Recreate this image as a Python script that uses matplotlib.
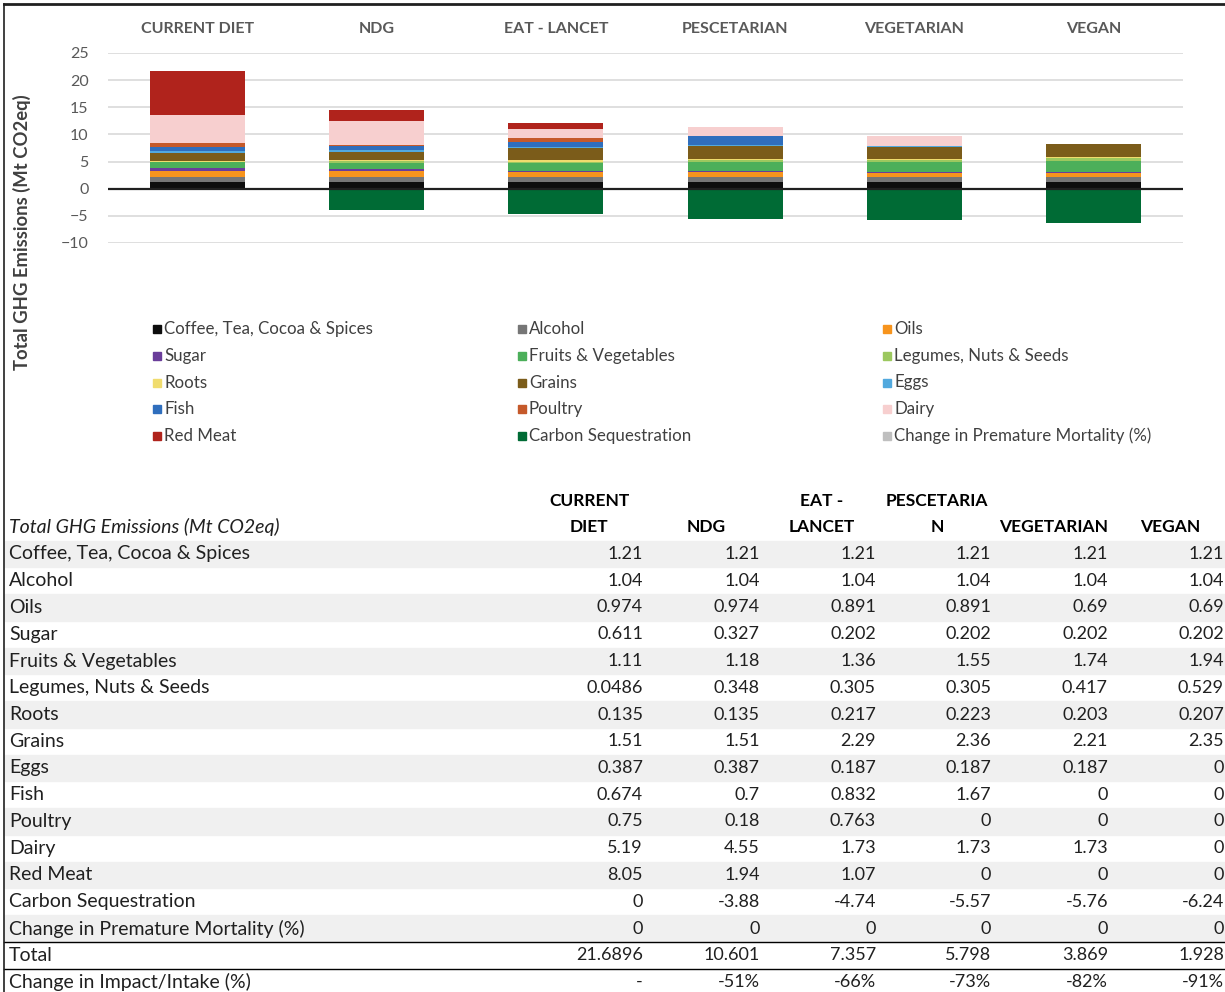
import matplotlib.pyplot as plt
from matplotlib.patches import Rectangle

# === Data ===
diets = ["CURRENT DIET", "NDG", "EAT - LANCET", "PESCETARIAN", "VEGETARIAN", "VEGAN"]
table_headers = ["CURRENT\nDIET", "NDG", "EAT -\nLANCET", "PESCETARIA\nN", "VEGETARIAN", "VEGAN"]

foods = ["Coffee, Tea, Cocoa & Spices", "Alcohol", "Oils", "Sugar", "Fruits & Vegetables",
         "Legumes, Nuts & Seeds", "Roots", "Grains", "Eggs", "Fish", "Poultry", "Dairy",
         "Red Meat", "Carbon Sequestration", "Change in Premature Mortality (%)"]

coffee = [1.21, 1.21, 1.21, 1.21, 1.21, 1.21]
alcohol = [1.04, 1.04, 1.04, 1.04, 1.04, 1.04]
oils = [0.974, 0.974, 0.891, 0.891, 0.69, 0.69]
sugar = [0.611, 0.327, 0.202, 0.202, 0.202, 0.202]
fruits_veg = [1.11, 1.18, 1.36, 1.55, 1.74, 1.94]
legumes = [0.0486, 0.348, 0.305, 0.305, 0.417, 0.529]
roots = [0.135, 0.135, 0.217, 0.223, 0.203, 0.207]
grains = [1.51, 1.51, 2.29, 2.36, 2.21, 2.35]
eggs = [0.387, 0.387, 0.187, 0.187, 0.187, 0]
fish = [0.674, 0.7, 0.832, 1.67, 0, 0]
poultry = [0.75, 0.18, 0.763, 0, 0, 0]
dairy = [5.19, 4.55, 1.73, 1.73, 1.73, 0]
red_meat = [8.05, 1.94, 1.07, 0, 0, 0]
carbon_seq = [0, -3.88, -4.74, -5.57, -5.76, -6.24]
mortality = [0, 0, 0, 0, 0, 0]

totals = [21.6896, 10.601, 7.357, 5.798, 3.869, 1.928]
change = ["-", "-51%", "-66%", "-73%", "-82%", "-91%"]

series = [coffee, alcohol, oils, sugar, fruits_veg, legumes, roots, grains, eggs,
          fish, poultry, dairy, red_meat, carbon_seq, mortality]
colors = ["#0d0d0d", "#767676", "#f7941d", "#6a3d9a", "#4caf5a", "#9cc85f", "#f0dc6e",
          "#7b5c1a", "#52a9de", "#2f6ebd", "#c5592a", "#f7cfcf", "#b0231c", "#006b35",
          "#bfbfbf"]

plt.rcParams['font.family'] = ['Lato', 'DejaVu Sans']

W, H = 1225, 992
fig = plt.figure(figsize=(W / 100, H / 100), dpi=100)

# overlay axes in pixel coords for table / legend / borders
ax_t = fig.add_axes([0, 0, 1, 1], zorder=-1)
ax_t.set_xlim(0, W)
ax_t.set_ylim(H, 0)
ax_t.axis('off')

# === Chart ===
ax = fig.add_axes([108 / W, 1 - 243 / H, (1183 - 108) / W, (243 - 53) / H])
x = list(range(len(diets)))
pos_bottom = [0.0] * len(diets)
neg_bottom = [0.0] * len(diets)
for vals, col in zip(series, colors):
    bottoms = [pb if v >= 0 else nb for v, pb, nb in zip(vals, pos_bottom, neg_bottom)]
    ax.bar(x, vals, bottom=bottoms, width=0.53, color=col, zorder=3)
    pos_bottom = [pb + max(v, 0) for v, pb in zip(vals, pos_bottom)]
    neg_bottom = [nb + min(v, 0) for v, nb in zip(vals, neg_bottom)]

ax.set_xlim(-0.5, len(diets) - 0.5)
ax.set_ylim(-10, 25)
ax.set_yticks(range(-10, 26, 5))
ax.grid(axis='y', color='#d9d9d9', linewidth=1.2, zorder=0)
ax.axhline(0, color='#202020', linewidth=1.6, zorder=4)
for s in ax.spines.values():
    s.set_visible(False)
ax.tick_params(axis='y', length=0, pad=14, labelsize=11.5, labelcolor='#595959')
ax.xaxis.tick_top()
ax.set_xticks(x)
ax.set_xticklabels(diets, fontsize=11.5, fontweight='bold', color='#595959')
ax.tick_params(axis='x', length=0, pad=12)

fig.text(22 / W, 1 - 232 / H, "Total GHG Emissions (Mt CO2eq)", rotation=90,
         ha='center', va='center', fontsize=13.3, fontweight='bold', color='#404040')

# === Legend (3 columns, row-major order) ===
leg_x = [157, 522, 887]
leg_y0, leg_dy = 329, 26.75
for i, (name, col) in enumerate(zip(foods, colors)):
    r, c = divmod(i, 3)
    lx, ly = leg_x[c], leg_y0 + r * leg_dy
    ax_t.add_patch(Rectangle((lx - 4, ly - 4), 8, 8, color=col))
    ax_t.text(lx + 7, ly, name, ha='left', va='center', fontsize=12.2, color='#404040')

# === Table ===
col_right = [643, 760, 876, 991, 1108, 1224]
row_y0, row_dy = 554, 26.75
ax_t.text(9, 527, "Total GHG Emissions (Mt CO2eq)", ha='left', va='center',
          fontsize=14, style='italic', color='#202020')
for cr, hdr in zip(col_right, table_headers):
    lines = hdr.split("\n")
    if len(lines) == 2:
        ax_t.text(cr - 54, 501, lines[0], ha='center', va='center', fontsize=12.5,
                  fontweight='bold')
    ax_t.text(cr - 54, 527, lines[-1], ha='center', va='center', fontsize=12.5,
              fontweight='bold')

rows = [(name, ["{:g}".format(v) for v in vals]) for name, vals in zip(foods, series)]
rows.append(("Total", ["{:g}".format(v) for v in totals]))
rows.append(("Change in Impact/Intake (%)", change))

for i, (name, cells) in enumerate(rows):
    y = row_y0 + i * row_dy
    if i % 2 == 0 and i < len(foods):
        ax_t.add_patch(Rectangle((5, y - row_dy / 2), W - 5, row_dy, color='#f0f0f0', zorder=0))
    ax_t.text(9, y, name, ha='left', va='center', fontsize=14, color='#202020')
    for cr, cell in zip(col_right, cells):
        ax_t.text(cr, y, cell, ha='right', va='center', fontsize=13, color='#202020')

line_total_top = row_y0 + (len(foods) - 0.5) * row_dy
ax_t.plot([4, W], [line_total_top, line_total_top], color='black', linewidth=1)
ax_t.plot([4, W], [line_total_top + row_dy, line_total_top + row_dy], color='black', linewidth=1)

# borders of the screenshot
ax_t.plot([4, W], [4, 4], color='#202020', linewidth=2)
ax_t.plot([4, 4], [4, H], color='#202020', linewidth=1.2)

fig.savefig("out.png", dpi=100)
